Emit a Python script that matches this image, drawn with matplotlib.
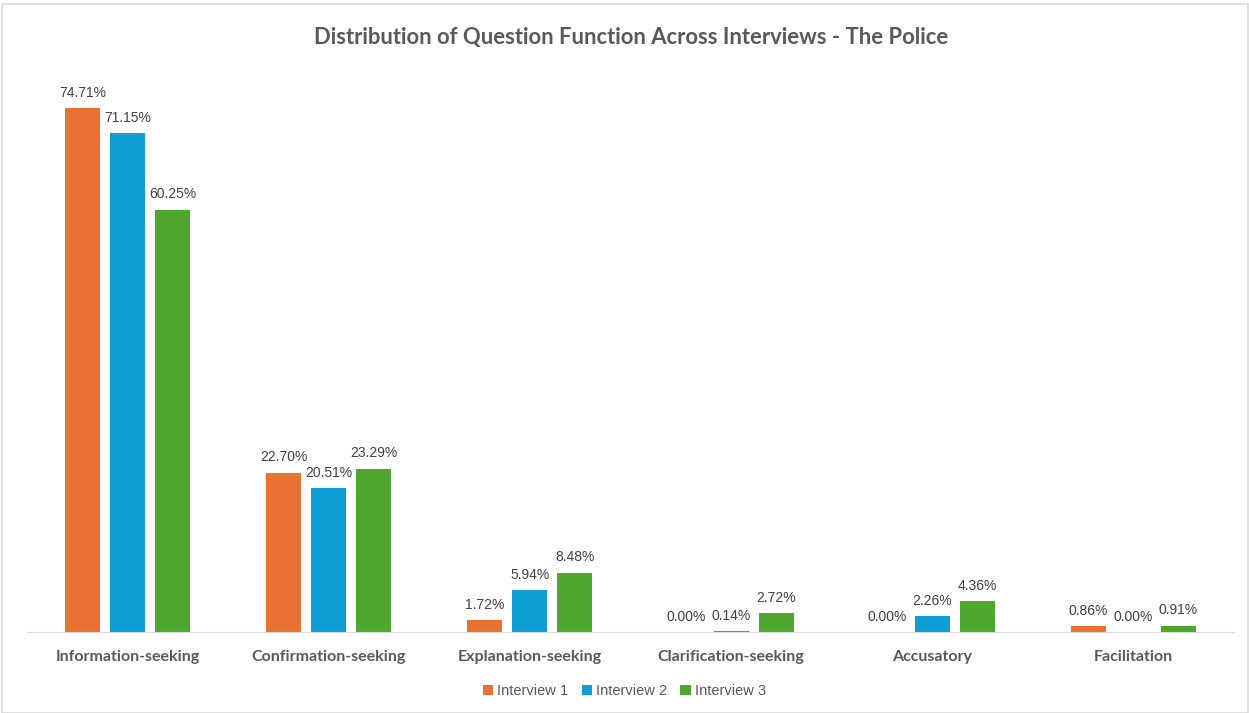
import matplotlib.pyplot as plt
import numpy as np
from matplotlib.patches import Rectangle

# data
categories = ['Information-seeking', 'Confirmation-seeking', 'Explanation-seeking',
              'Clarification-seeking', 'Accusatory', 'Facilitation']
interview1 = [74.71, 22.70, 1.72, 0.00, 0.00, 0.86]
interview2 = [71.15, 20.51, 5.94, 0.14, 2.26, 0.00]
interview3 = [60.25, 23.29, 8.48, 2.72, 4.36, 0.91]
series_names = ['Interview 1', 'Interview 2', 'Interview 3']
colors = ['#E97132', '#0F9ED5', '#4EA72E']

fig = plt.figure(figsize=(12.49, 7.13), dpi=100)
ax = fig.add_axes([0.0216, 0.1136, 0.9664, 0.7868])

x = np.arange(len(categories))
width = 0.174
step = 0.224
for i, (vals, name, c) in enumerate(zip([interview1, interview2, interview3], series_names, colors)):
    bars = ax.bar(x + (i - 1) * step, vals, width, color=c, label=name)
    for b, v in zip(bars, vals):
        ax.annotate(f'{v:.2f}%', (b.get_x() + b.get_width() / 2, v),
                    xytext=(0, 6), textcoords='offset points', ha='center', va='bottom',
                    fontsize=10, color='#404040', family='Liberation Sans')

ax.set_xlim(-0.5, len(categories) - 0.5)
ax.set_ylim(0, 80)
ax.set_yticks([])
for s in ['top', 'right', 'left']:
    ax.spines[s].set_visible(False)
ax.spines['bottom'].set_color('#D9D9D9')
ax.set_xticks(x)
ax.set_xticklabels(categories, fontsize=11.5, fontweight='bold', color='#595959', family='Lato')
ax.tick_params(axis='x', length=0, pad=13)

fig.suptitle('Distribution of Question Function Across Interviews - The Police',
             x=0.505, y=0.962, fontsize=15.8, fontweight='bold', color='#595959', family='Lato')

ax.legend(loc='center', bbox_to_anchor=(0.5, 0.031), bbox_transform=fig.transFigure,
          ncol=3, frameon=False, handlelength=0.7, handleheight=0.7, handletextpad=0.3,
          columnspacing=0.9, prop={'family': 'Liberation Sans', 'size': 10.5},
          labelcolor='#595959')

fig.patches.append(Rectangle((0.002, 0.0), 0.997, 0.995, transform=fig.transFigure,
                             fill=False, edgecolor='#D9D9D9', linewidth=1.2))

plt.savefig('out.png', dpi=100)
